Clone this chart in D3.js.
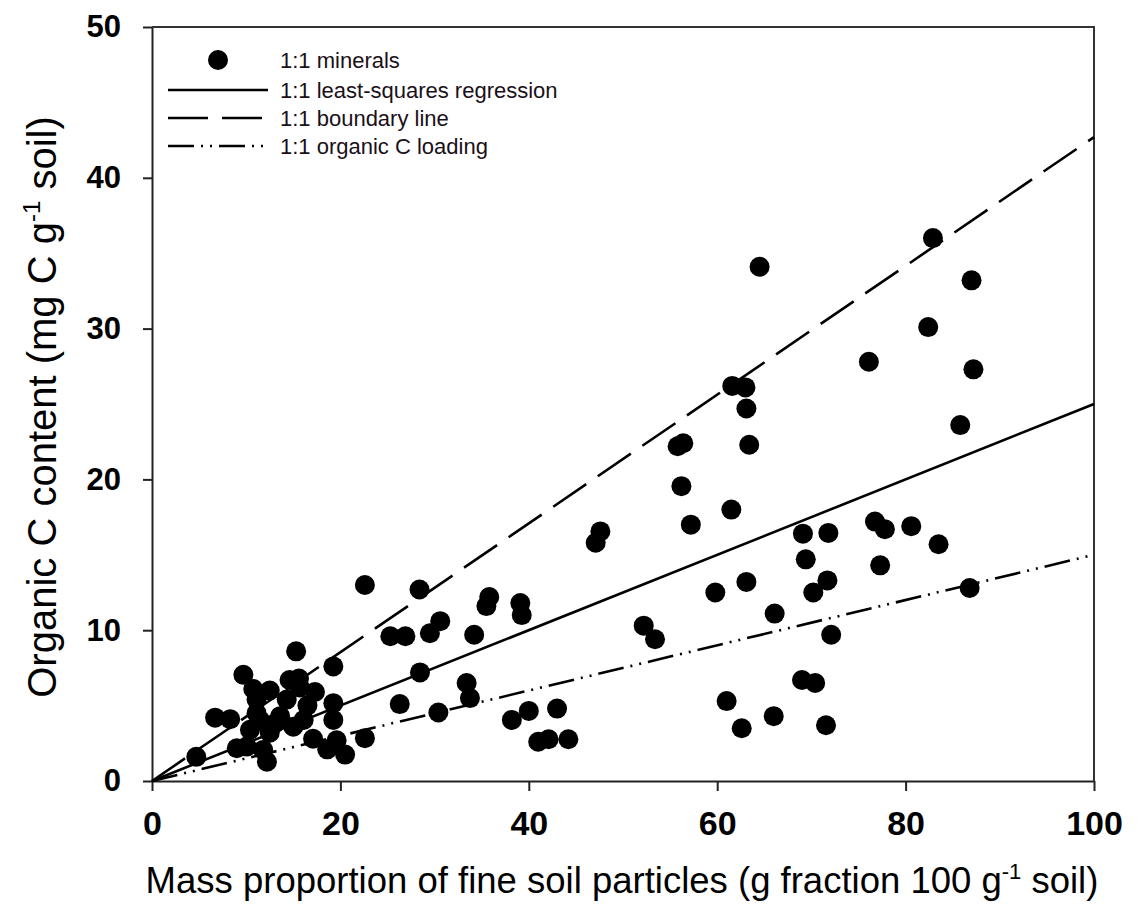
<!DOCTYPE html>
<html>
<head>
<meta charset="utf-8">
<script src="https://cdn.jsdelivr.net/npm/d3@7"></script>
<style>
	body { margin: 0; background: #fff; }
	.tick text { font-family: Arial, "Liberation Sans", sans-serif; font-weight: bold; fill: #000; }
	.title { font-family: Arial, "Liberation Sans", sans-serif; fill: #000; }
	.legend text { font-family: Arial, "Liberation Sans", sans-serif; font-size: 22px; fill: #1a1018; }
</style>
</head>
<body>
<svg></svg>
<script>
// scatter points: mass proportion of fine particles (x) and organic C content (y)
var fineX = [82.9, 87.0, 82.4, 76.1, 87.2, 85.8, 64.5, 61.6, 63.0, 63.1, 63.4, 55.8, 56.4, 56.2,
	61.5, 57.2, 47.6, 47.1, 69.1, 71.8, 76.75, 77.8, 80.6, 83.5, 69.4, 77.3, 71.7, 70.2, 86.8,
	63.1, 59.8, 66.1, 72.1, 39.1, 39.25, 52.2, 53.4, 69.0, 70.4, 61.0, 62.6, 66.0, 71.55, 38.2,
	40.0, 43.0, 41.0, 42.1, 44.2, 22.6, 28.4, 25.3, 26.9, 29.5, 30.6, 34.2, 35.8, 35.5, 28.45,
	33.4, 33.75, 26.3, 30.4, 22.6, 19.6, 20.5, 19.25, 19.25, 19.25, 15.3, 9.7, 10.75, 14.6, 15.6,
	15.7, 17.3, 6.7, 8.3, 11.1, 11.1, 11.5, 12.5, 13.6, 14.3, 15.0, 16.1, 11.8, 12.2, 10.05, 9.0,
	17.1, 18.6, 4.7, 12.5, 13.0, 10.4, 16.5];
var carbonY = [36.0, 33.2, 30.1, 27.8, 27.3, 23.6, 34.1, 26.2, 26.1, 24.7, 22.3, 22.2, 22.4, 19.55,
	18.0, 17.0, 16.55, 15.8, 16.4, 16.45, 17.2, 16.7, 16.9, 15.7, 14.7, 14.3, 13.3, 12.5, 12.8,
	13.2, 12.5, 11.1, 9.7, 11.8, 11.0, 10.3, 9.4, 6.7, 6.5, 5.3, 3.5, 4.3, 3.7, 4.05,
	4.65, 4.8, 2.6, 2.77, 2.77, 13.0, 12.7, 9.6, 9.6, 9.8, 10.6, 9.7, 12.2, 11.6, 7.2,
	6.5, 5.5, 5.1, 4.54, 2.84, 2.7, 1.75, 7.6, 5.16, 4.05, 8.6, 7.04, 6.1, 6.7, 6.8,
	6.2, 5.9, 4.2, 4.1, 5.4, 4.5, 4.0, 3.2, 4.3, 5.4, 3.6, 4.05, 2.06, 1.28, 2.28, 2.17,
	2.8, 2.1, 1.6, 6.0, 3.8, 3.4, 5.0];

// fitted lines, given by their end points
var lineX = [0, 100];
var regressionY = [0, 25];
var boundaryY = [0, 42.7];
var loadingY = [0, 15];

var legendLabels = ["1:1 minerals", "1:1 least-squares regression", "1:1 boundary line", "1:1 organic C loading"];
var xTicks = [0, 20, 40, 60, 80, 100];
var yTicks = [0, 10, 20, 30, 40, 50];

var svgWidth = 1139, svgHeight = 923;
var plotLeft = 152, plotRight = 1094, plotTop = 27, plotBottom = 781;
var dashBoundary = "40,14", dashLoading = "26,7,2,7,2,7";

var svg = d3.select("svg")
	.attr("width", svgWidth)
	.attr("height", svgHeight);

var xScale = d3.scaleLinear().domain([0, 100]).range([plotLeft, plotRight]);
var yScale = d3.scaleLinear().domain([0, 50]).range([plotBottom, plotTop]);

// axes
var xAxis = svg.append("g")
	.attr("transform", "translate(0," + plotBottom + ")")
	.call(d3.axisBottom(xScale).tickValues(xTicks).tickSize(10).tickSizeOuter(0).tickPadding(20));
xAxis.selectAll("text").style("font-size", "34px");

var yAxis = svg.append("g")
	.attr("transform", "translate(" + plotLeft + ",0)")
	.call(d3.axisLeft(yScale).tickValues(yTicks).tickSize(9).tickSizeOuter(0).tickPadding(22));
yAxis.selectAll("text").style("font-size", "31px");

svg.selectAll(".domain, .tick line").attr("stroke", "#222").attr("stroke-width", 2);

// box on top and right
svg.append("path")
	.attr("d", "M" + plotLeft + "," + plotTop + "H" + plotRight + "V" + plotBottom)
	.attr("fill", "none")
	.attr("stroke", "#333")
	.attr("stroke-width", 2);

// lines
var line = d3.line()
	.x(function(d) { return xScale(d[0]); })
	.y(function(d) { return yScale(d[1]); });

function drawLine(ys, dash) {
	svg.append("path")
		.datum(lineX.map(function(x, i) { return [x, ys[i]]; }))
		.attr("d", line)
		.attr("fill", "none")
		.attr("stroke", "#000")
		.attr("stroke-width", 2.6)
		.attr("stroke-dasharray", dash);
}
drawLine(regressionY, null);
drawLine(boundaryY, dashBoundary);
drawLine(loadingY, dashLoading);

// points
svg.append("g").selectAll("circle")
	.data(fineX)
	.enter()
	.append("circle")
	.attr("cx", function(d) { return xScale(d); })
	.attr("cy", function(d, i) { return yScale(carbonY[i]); })
	.attr("r", 10)
	.attr("fill", "#000");

// axis titles
svg.append("text")
	.attr("class", "title")
	.attr("x", (plotLeft + plotRight) / 2 - 1)
	.attr("y", 893)
	.attr("text-anchor", "middle")
	.style("font-size", "36.5px")
	.html('Mass proportion of fine soil particles (g fraction 100 g<tspan dy="-14" font-size="22">-1</tspan><tspan dy="14"> soil)</tspan>');

svg.append("text")
	.attr("class", "title")
	.attr("transform", "translate(56,407) rotate(-90)")
	.attr("text-anchor", "middle")
	.style("font-size", "40px")
	.html('Organic C content (mg C g<tspan dy="-16" font-size="24">-1</tspan><tspan dy="16"> soil)</tspan>');

// legend
var legend = svg.append("g").attr("class", "legend");
var rowY = [60, 90, 118, 146];
legend.append("circle").attr("cx", 218).attr("cy", rowY[0]).attr("r", 10).attr("fill", "#000");
[null, dashBoundary, dashLoading].forEach(function(dash, i) {
	legend.append("line")
		.attr("x1", 168).attr("x2", 268)
		.attr("y1", rowY[i + 1]).attr("y2", rowY[i + 1])
		.attr("stroke", "#000")
		.attr("stroke-width", 2.6)
		.attr("stroke-dasharray", dash);
});
legend.selectAll("text")
	.data(legendLabels)
	.enter()
	.append("text")
	.attr("x", 280)
	.attr("y", function(d, i) { return rowY[i] + 8; })
	.text(function(d) { return d; });
</script>
</body>
</html>
